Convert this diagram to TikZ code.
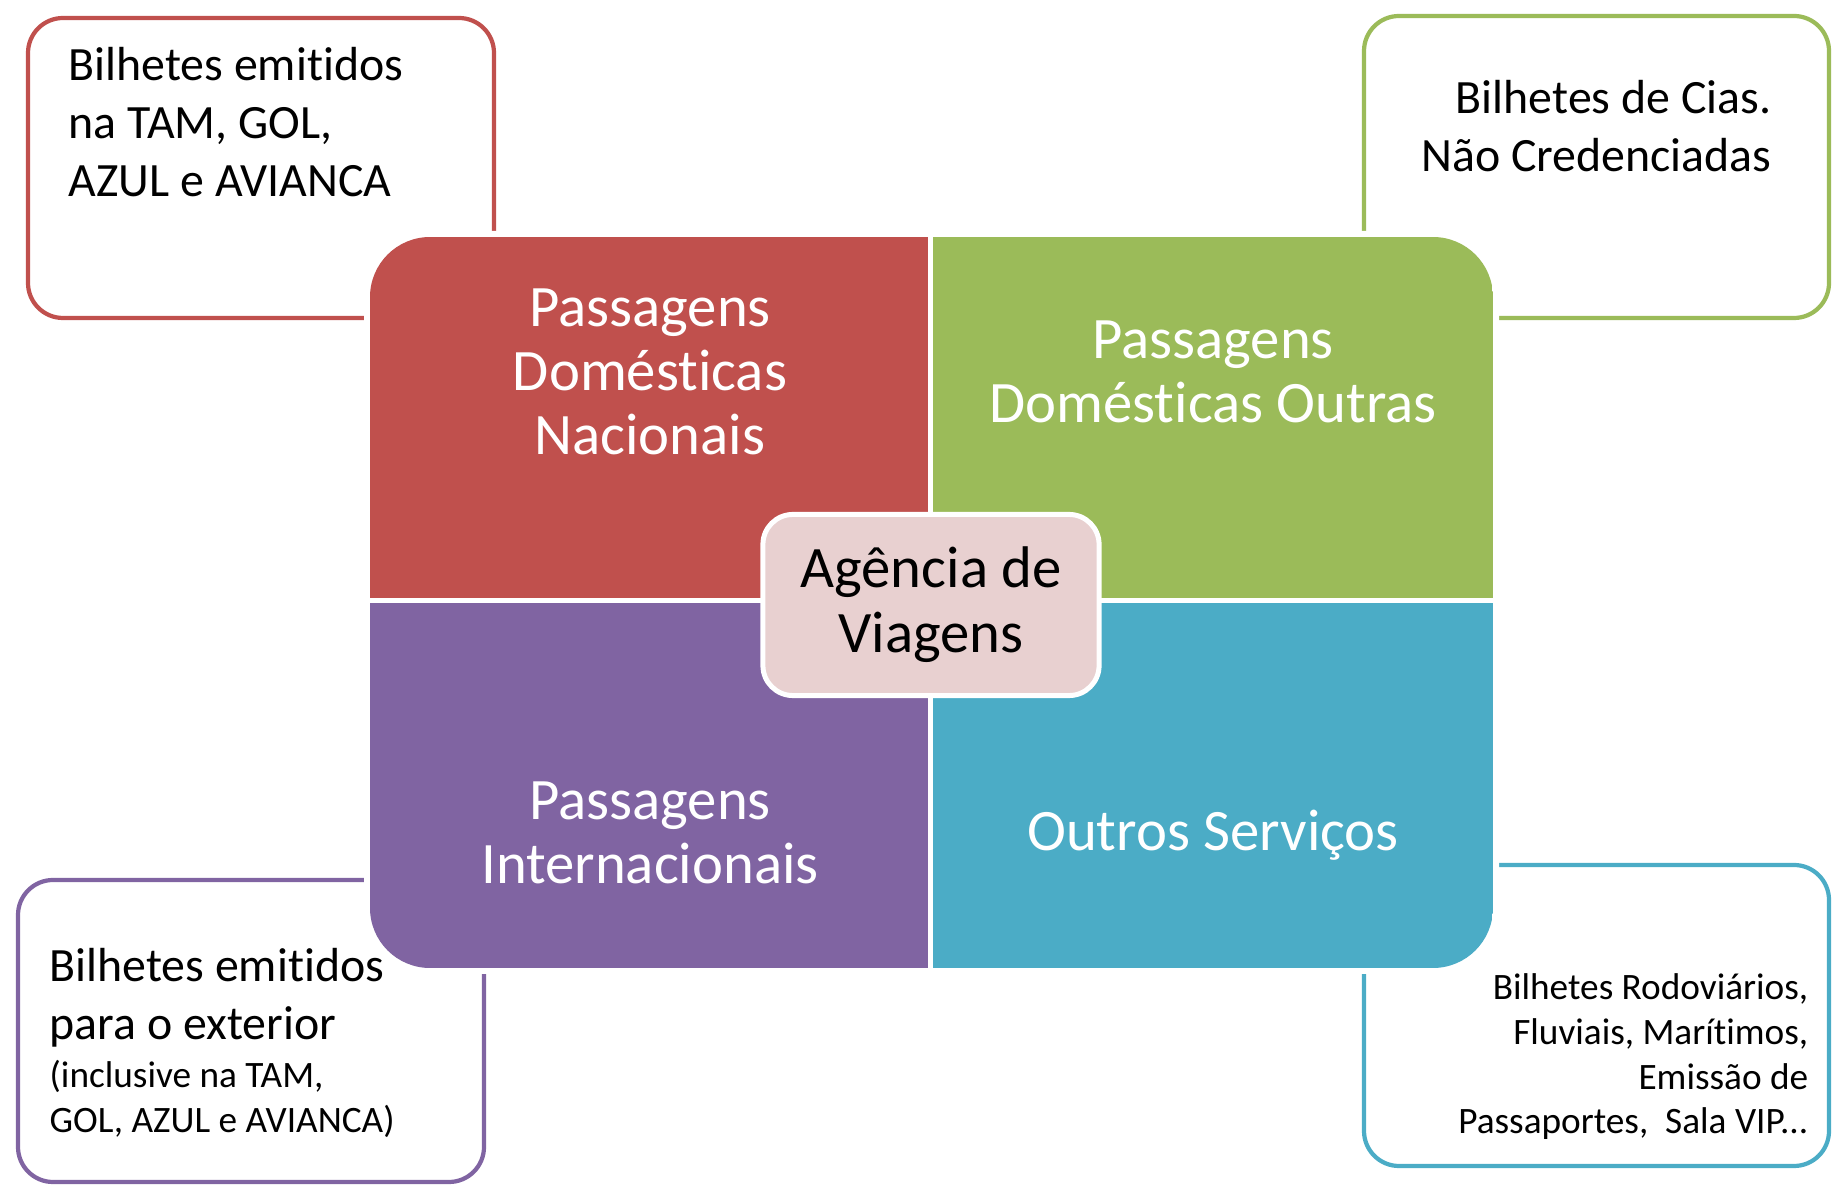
\documentclass[tikz,border=0pt]{standalone}
\usepackage{fontspec}
\setmainfont{Carlito}[Ligatures=NoCommon]
\usepackage{tikz}
\definecolor{redq}{HTML}{C0504D}
\definecolor{greenq}{HTML}{9BBB59}
\definecolor{purpleq}{HTML}{8064A2}
\definecolor{blueq}{HTML}{4BACC6}
\definecolor{pinkc}{HTML}{E8D0D0}
\tikzset{
  quadlabel/.style={text=white, align=center, inner sep=0pt, font=\fontsize{16.7}{18.3}\selectfont},
  notetext/.style={inner sep=0pt, font=\fontsize{13.6}{16.4}\selectfont},
  smallnote/.style={inner sep=0pt, font=\fontsize{10.6}{12.7}\selectfont},
  notebox/.style={line width=1.2pt, rounded corners=0.35cm}
}

\begin{document}
\begin{tikzpicture}[x=0.01cm,y=-0.01cm]
        \useasboundingbox (0,0) rectangle (1842,1192);
        % outline boxes behind the block
        \foreach \Corner/\Opposite/\Col in {{(28,18)}/{(494,318)}/redq, {(1364,16)}/{(1829,318)}/greenq, {(18,880)}/{(484,1182)}/purpleq, {(1364,865)}/{(1829,1166)}/blueq}
        \draw[notebox,\Col] \Corner rectangle \Opposite;
        % white halo and the four quadrants
        \fill[white, rounded corners=0.66cm] (364,231) rectangle (1499,974);
        \begin{scope}
          \clip[rounded corners=0.6cm] (370,237) rectangle (1493,968);
          \fill[redq] (370,237) rectangle (930,601);
          \fill[greenq] (930,237) rectangle (1493,601);
          \fill[purpleq] (370,601) rectangle (930,968);
          \fill[blueq] (930,601) rectangle (1493,968);
        \end{scope}
        \draw[white, line width=0.05cm] (930,230) -- (930,975);
        \draw[white, line width=0.05cm] (363,601) -- (1500,601);
        \foreach \Point/\Name/\PointLabel in {{(650,372)}/domnac/{Passagens\\Domésticas\\Nacionais}, {(1213,372)}/domout/{Passagens\\Domésticas Outras}, {(650,833)}/intern/{Passagens\\Internacionais}, {(1213,835)}/outserv/{Outros Serviços}}
        \node[quadlabel] (\Name) at \Point {\PointLabel};
        % centre
        \node[draw=white, line width=0.05cm, fill=pinkc, rounded corners=0.3cm, minimum width=3.36cm, minimum height=1.81cm, align=center, font=\fontsize{16.7}{18.4}\selectfont] (agencia) at (931,605) {Agência de\\Viagens};
        % notes
        \node[notetext, anchor=west, align=left] (notenac) at (68,122) {Bilhetes emitidos\\na TAM, GOL,\\AZUL e AVIANCA};
        \node[notetext, anchor=east, align=right] (noteout) at (1772,126) {Bilhetes de Cias.\\Não Credenciadas};
        \node[notetext, anchor=west, align=left] (noteint) at (49,998) {Bilhetes emitidos\\para o exterior};
        \node[smallnote, anchor=west, align=left] (noteintb) at (49,1099) {(inclusive na TAM,\\GOL, AZUL e AVIANCA)};
        \node[smallnote, anchor=east, align=right] (noteserv) at (1809,1057) {Bilhetes Rodoviários,\\Fluviais, Marítimos,\\Emissão de\\Passaportes,\ \ Sala VIP...};
\end{tikzpicture}
\end{document}
